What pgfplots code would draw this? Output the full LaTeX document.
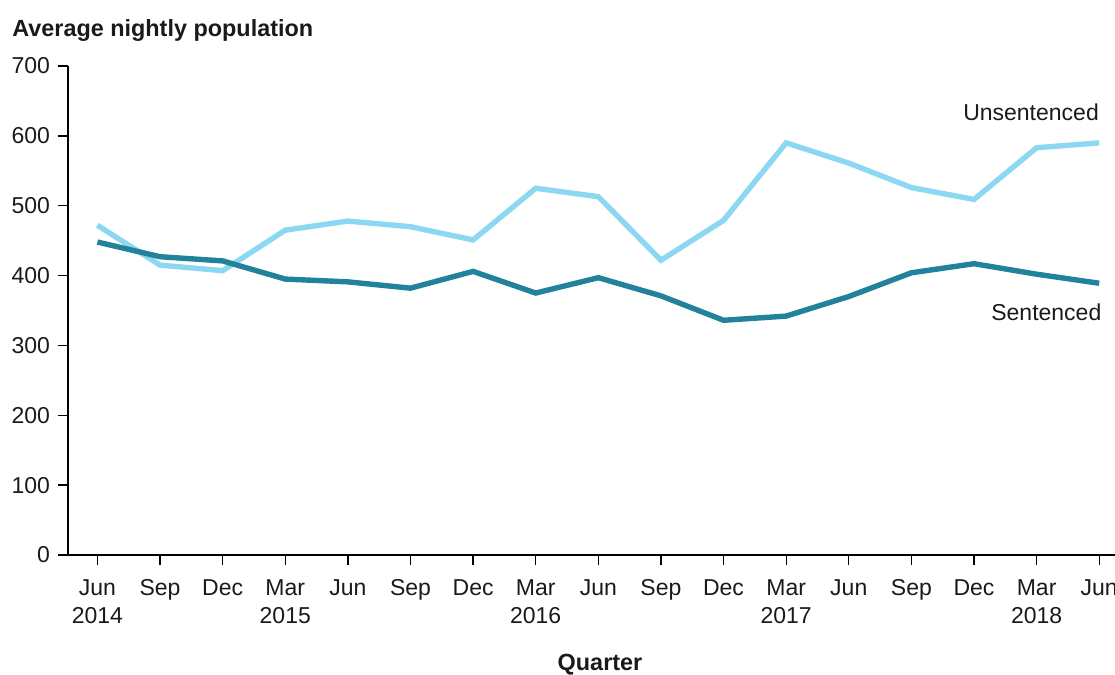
\documentclass[border=0pt]{standalone}
\usepackage{pgfplots}
\pgfplotsset{compat=1.18}
\usepackage{fontspec}
\setmainfont{Liberation Sans}
\definecolor{unsent}{RGB}{140,216,242}
\definecolor{sent}{RGB}{35,130,155}
\definecolor{txt}{RGB}{26,26,26}
\begin{document}
\begin{tikzpicture}
\begin{axis}[
  name=ax,
  at={(0,0)}, anchor=south west,
  scale only axis,
  width=525pt, height=244.5pt,
  xmin=-0.47, xmax=16.3,
  ymin=0, ymax=700,
  axis x line*=bottom, axis y line*=left,
  axis line style={black, line width=0.65pt},
  tick style={black, line width=0.65pt},
  tick align=outside,
  major tick length=5pt,
  xtick={0,...,16},
  xticklabels={Jun\\2014,Sep,Dec,Mar\\2015,Jun,Sep,Dec,Mar\\2016,Jun,Sep,Dec,Mar\\2017,Jun,Sep,Dec,Mar\\2018,Jun},
  xticklabel style={align=center, font=\fontsize{11.5}{14}\selectfont, text=txt, yshift=-3.8pt},
  ytick={0,100,...,700},
  yticklabel style={font=\fontsize{11.5}{13}\selectfont, text=txt, xshift=-0.5pt},
  /pgf/number format/assume math mode=true,
  clip=false,
]
\addplot[unsent, line width=2.7pt] coordinates {
(0,472) (1,415) (2,407) (3,465) (4,478) (5,470) (6,451) (7,525) (8,513) (9,422) (10,479) (11,590) (12,561) (13,526) (14,509) (15,583) (16,590)
};
\addplot[sent, line width=2.7pt] coordinates {
(0,448) (1,427) (2,421) (3,395) (4,391) (5,382) (6,406) (7,375) (8,397) (9,371) (10,336) (11,342) (12,370) (13,404) (14,417) (15,402) (16,389)
};
\node[anchor=east, font=\fontsize{11.5}{13}\selectfont, text=txt, inner sep=0pt] at (axis cs:16,634) {Unsentenced};
\node[anchor=east, font=\fontsize{11.5}{13}\selectfont, text=txt, inner sep=0pt] at (axis cs:16.04,348) {Sentenced};
\end{axis}
\node[anchor=west, font=\bfseries\fontsize{11.7}{13}\selectfont, text=txt, inner sep=0pt] at (-28pt,262pt) {Average nightly population};
\node[font=\bfseries\fontsize{11.7}{13}\selectfont, text=txt, inner sep=0pt] at (266pt,-55pt) {Quarter};
\pgfresetboundingbox
\useasboundingbox (-34pt,-60pt) rectangle (523.5pt,277.5pt);
\end{tikzpicture}
\end{document}
